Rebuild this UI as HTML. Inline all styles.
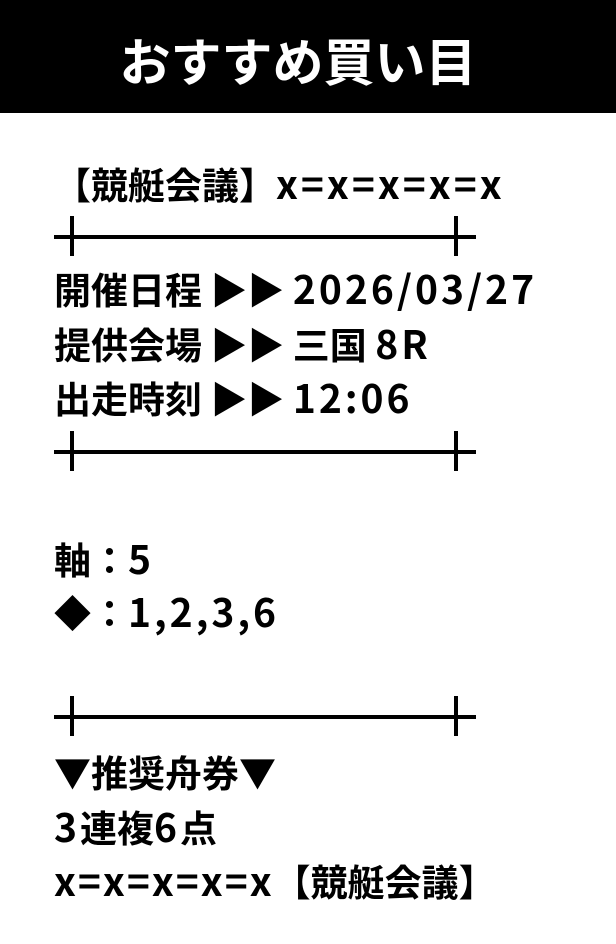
<!DOCTYPE html>
<html><head><meta charset="utf-8"><style>
body{margin:0;width:616px;height:944px;background:#fff;position:relative;overflow:hidden;font-family:"Noto Sans CJK JP","Liberation Sans",sans-serif;font-weight:bold;color:#000}
.h{position:absolute;left:0;top:0;width:596px;height:113px;background:#000;color:#fff;font-size:51px;text-align:center;line-height:118px;padding-right:20px}
.t{position:absolute;left:54px;font-size:37px;line-height:44px;white-space:nowrap}
.l{letter-spacing:3px;font-size:39px}
.d{position:absolute;left:54px;width:422px;height:4px;background:#000}
.d:before,.d:after{content:"";position:absolute;top:-19px;width:4px;height:40px;background:#000}
.d:before{left:16px}.d:after{left:400px}
</style></head><body>
<div class="h">おすすめ買い目</div>
<div class="t" style="top:161px">【競艇会議】<span class="l">x=x=x=x=x</span></div>
<div class="d" style="top:235px"></div>
<div class="t" style="top:266px">開催日程 ▶▶ <span class="l">2026/03/27</span></div>
<div class="t" style="top:321px">提供会場 ▶▶ 三国 <span class="l">8R</span></div>
<div class="t" style="top:375px">出走時刻 ▶▶ <span class="l">12:06</span></div>
<div class="d" style="top:450px"></div>
<div class="t" style="top:536px">軸：<span class="l">5</span></div>
<div class="t" style="top:589px">◆：<span class="l">1,2,3,6</span></div>
<div class="d" style="top:715px"></div>
<div class="t" style="top:749px">▼推奨舟券▼</div>
<div class="t" style="top:804px"><span class="l">3</span>連複<span class="l">6</span>点</div>
<div class="t" style="top:858px"><span class="l" style="letter-spacing:2px">x=x=x=x=x</span>【競艇会議】</div>
</body></html>
